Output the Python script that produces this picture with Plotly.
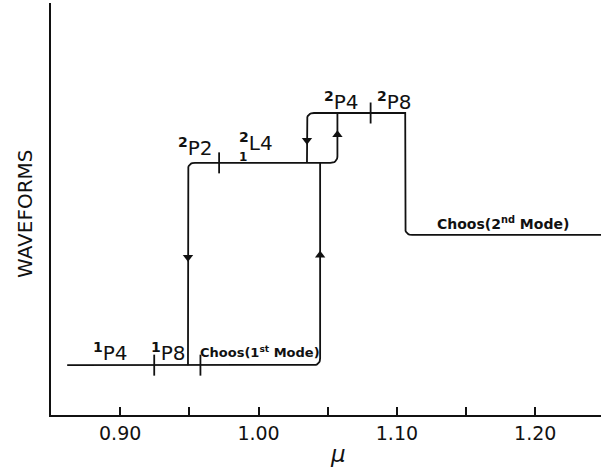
import numpy as np
import plotly.graph_objects as go

# ---------------- data ----------------
X_RANGE = [0.85, 1.2475]
Y_RANGE = [0, 100]

LEVEL_1ST = 12.1   # 1st-mode branch (1P4, 1P8, chaos 1st mode)
LEVEL_2P2 = 61.2   # 2P2 / 2,1L4 branch
LEVEL_2P4 = 73.3   # 2P4 / 2P8 branch
LEVEL_2ND = 43.7   # chaos 2nd mode

branch1_mu = [0.8617, 1.0445, 1.0445]
branch1_w = [LEVEL_1ST, LEVEL_1ST, LEVEL_2P2]
branch1_round = [False, True, False]

branch2_mu = [0.949, 0.949, 1.057, 1.057]
branch2_w = [LEVEL_1ST, LEVEL_2P2, LEVEL_2P2, LEVEL_2P4]
branch2_round = [False, True, True, False]

branch3_mu = [1.035, 1.035, 1.106, 1.106, 1.2475]
branch3_w = [LEVEL_2P2, LEVEL_2P4, LEVEL_2P4, LEVEL_2ND, LEVEL_2ND]
branch3_round = [False, True, False, True, False]

trans_mu = [0.9246, 0.958, 0.9715, 1.081]
trans_w = [LEVEL_1ST, LEVEL_1ST, LEVEL_2P2, LEVEL_2P4]

arrow_down_mu = [0.949, 1.035]
arrow_down_w = [38.3, 66.7]
arrow_up_mu = [1.0445, 1.057]
arrow_up_w = [38.8, 68.0]

tick_vals = [0.90, 0.95, 1.00, 1.05, 1.10, 1.15, 1.20]
tick_text = ["0.90", "", "1.00", "", "1.10", "", "1.20"]

# ---------------- helpers ----------------
W, H = 601, 469
ML, MR, MT, MB = 51, 0, 3, 54
SX = (W - ML - MR) / (X_RANGE[1] - X_RANGE[0])
SY = (H - MT - MB) / (Y_RANGE[1] - Y_RANGE[0])


def rounded(xs, ys, flags, r=7.0, n=10):
    px = np.array(xs) * SX
    py = np.array(ys) * SY
    ox, oy = [px[0]], [py[0]]
    for i in range(1, len(xs) - 1):
        p = np.array([px[i], py[i]])
        if not flags[i]:
            ox.append(p[0]); oy.append(p[1]); continue
        a = np.array([px[i - 1], py[i - 1]]) - p
        b = np.array([px[i + 1], py[i + 1]]) - p
        a = a / np.linalg.norm(a); b = b / np.linalg.norm(b)
        s = p + a * r; e = p + b * r
        for t in np.linspace(0, 1, n):
            q = (1 - t) ** 2 * s + 2 * (1 - t) * t * p + t ** 2 * e
            ox.append(q[0]); oy.append(q[1])
    ox.append(px[-1]); oy.append(py[-1])
    return np.array(ox) / SX, np.array(oy) / SY


fig = go.Figure()
LINE = dict(color="#111111", width=1.8)
for xs, ys, fl in [(branch1_mu, branch1_w, branch1_round),
                   (branch2_mu, branch2_w, branch2_round),
                   (branch3_mu, branch3_w, branch3_round)]:
    rx, ry = rounded(xs, ys, fl)
    fig.add_trace(go.Scatter(x=rx, y=ry, mode="lines", line=LINE,
                             hoverinfo="skip", showlegend=False))

fig.add_trace(go.Scatter(x=trans_mu, y=trans_w, mode="markers",
                         marker=dict(symbol="line-ns", size=15,
                                     line=dict(color="#111111", width=1.8)),
                         showlegend=False, hoverinfo="skip"))
fig.add_trace(go.Scatter(x=arrow_down_mu, y=arrow_down_w, mode="markers",
                         marker=dict(symbol="triangle-down", size=9, color="#111111"),
                         showlegend=False, hoverinfo="skip"))
fig.add_trace(go.Scatter(x=arrow_up_mu, y=arrow_up_w, mode="markers",
                         marker=dict(symbol="triangle-up", size=9, color="#111111"),
                         showlegend=False, hoverinfo="skip"))

FONT = "DejaVu Sans"
LBL = dict(family=FONT, size=20, color="#111111")
CH1 = dict(family=FONT, size=13, color="#111111")
CH2 = dict(family=FONT, size=14, color="#111111")

labels = [
    (0.8930, 15.2, "<sup><b>1</b></sup>P4", LBL),
    (0.9346, 15.2, "<sup><b>1</b></sup>P8", LBL),
    (1.0011, 15.2, "<b>Choos(1<sup>st</sup> Mode)</b>", CH1),
    (0.9541, 65.0, "<sup><b>2</b></sup>P2", LBL),
    (0.9980, 66.2, "<sup><b>2</b></sup>L4", LBL),
    (0.9885, 62.6, "<b>1</b>", dict(family=FONT, size=12, color="#111111")),
    (1.0603, 76.2, "<sup><b>2</b></sup>P4", LBL),
    (1.0986, 76.2, "<sup><b>2</b></sup>P8", LBL),
    (1.1767, 46.6, "<b>Choos(2<sup>nd</sup> Mode)</b>", CH2),
]
for x, y, t, f in labels:
    fig.add_annotation(x=x, y=y, text=t, showarrow=False, font=f,
                       xanchor="center", yanchor="middle")

fig.add_annotation(xref="paper", yref="paper", x=(25 - ML) / (W - ML - MR),
                   y=(H - MB - 214) / (H - MT - MB), text="WAVEFORMS",
                   textangle=-90, showarrow=False,
                   font=dict(family=FONT, size=20, color="#111111"),
                   xanchor="center", yanchor="middle")
fig.add_annotation(xref="paper", yref="paper", x=(338 - ML) / (W - ML - MR),
                   y=(H - MB - 454) / (H - MT - MB), text="<i>μ</i>",
                   showarrow=False,
                   font=dict(family=FONT, size=23, color="#111111"),
                   xanchor="center", yanchor="middle")

fig.update_layout(
    width=W, height=H, margin=dict(l=ML, r=MR, t=MT, b=MB),
    paper_bgcolor="white", plot_bgcolor="white",
    xaxis=dict(range=X_RANGE, showgrid=False, zeroline=False, showline=True,
               linecolor="#111111", linewidth=2.2, ticks="inside", ticklen=8,
               tickwidth=2, tickcolor="#111111", tickvals=tick_vals,
               ticktext=tick_text, tickfont=dict(family=FONT, size=19, color="#111111")),
    yaxis=dict(range=Y_RANGE, showgrid=False, zeroline=False, showline=True,
               linecolor="#111111", linewidth=2.2, showticklabels=False, ticks=""),
)

fig.write_html("out.html")
